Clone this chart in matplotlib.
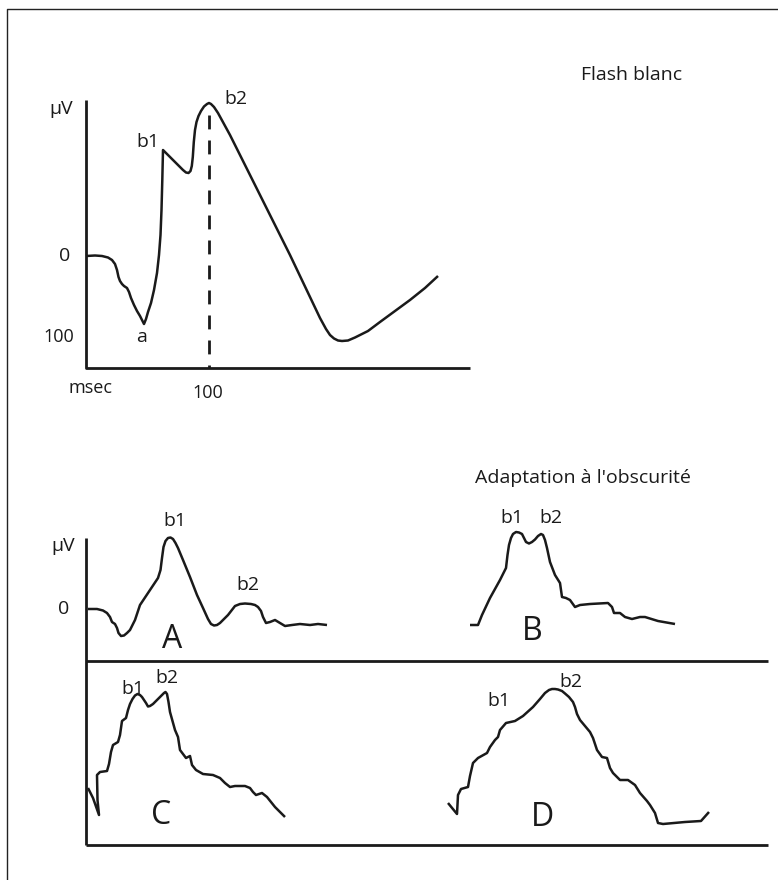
import matplotlib
matplotlib.use("Agg")
import matplotlib.pyplot as plt

plt.rcParams['font.family'] = ['Open Sans', 'DejaVu Sans']

# ---- traces (page coordinates, y downwards) ----
flash_x = [86, 95, 102, 108, 112, 115, 117, 118.5, 120, 122, 124, 127, 129, 131,
           134, 137, 140, 142, 144, 146, 148, 151, 154, 157, 159, 160.5, 161.5,
           162.3, 163, 170, 178, 183, 186, 188.5, 190.5, 191.8, 192.8, 193.8,
           195, 196.5, 198.5, 201, 204, 207, 209, 211, 214, 218, 230, 260, 290,
           320, 326, 330, 334, 338, 342, 348, 355, 368, 380, 395, 410, 425, 438]
flash_y = [256, 255.5, 256, 257.5, 260, 264, 270, 277, 281, 284, 286, 288, 292,
           298, 305, 311, 316, 320, 324, 319, 312, 303, 290, 273, 255, 235, 210,
           180, 150, 157, 165, 170, 172.5, 173, 171, 166, 157, 142, 130, 122, 116,
           111, 106.5, 104, 103, 104, 107, 113, 135, 195, 255, 318, 329, 335,
           338.5, 340.5, 341, 340.5, 337.5, 331, 322, 311, 300, 288, 276]

a_x = [88, 97, 103, 107, 110, 112, 115, 117, 118.5, 121, 124, 127, 130, 135, 140,
       150, 158, 160.5, 162, 163.5, 165.5, 168, 170.5, 173, 175.5, 178, 183, 190,
       197, 203, 208, 211, 214, 217, 220, 228, 235, 240, 245, 251, 255, 258, 261,
       263, 266, 270, 275, 280, 285, 292, 300, 310, 318, 327]
a_y = [609, 609, 610.5, 613, 617, 622, 624, 628, 633, 636, 635.5, 633, 630, 620,
       605, 590, 578, 570, 558, 547, 541, 538, 537.5, 539, 543, 548, 560, 577,
       595, 608, 619, 624, 625.5, 625, 623, 615, 606, 604, 603.5, 604, 605, 607,
       611, 617, 623, 622, 620, 623, 626, 625, 624, 625, 624, 625]

b_x = [470, 478, 482, 490, 500, 506, 507.5, 509, 511, 513, 516, 519, 522, 524,
       526, 529, 532, 535, 538, 541, 543, 545, 547, 550, 555, 560, 562, 566, 570,
       575, 580, 590, 608, 612, 614, 620, 625, 632, 640, 645, 658, 675]
b_y = [625, 625, 615, 598, 580, 568, 555, 545, 538, 534, 532, 532.5, 534, 538,
       542, 543.5, 542, 539.5, 536, 534, 535, 540, 548, 562, 575, 583, 597, 598,
       600, 607, 605, 604, 603, 607, 613, 613, 617, 619, 617, 617, 621, 624]

c_x = [88, 93, 99, 97.5, 97, 100, 107, 109, 111, 113, 118, 120, 122, 126, 128,
       130, 132.5, 135, 137.5, 140, 142, 144, 146, 148, 150, 153, 156, 159, 162,
       164, 165.5, 167, 168.5, 170, 175, 178, 180, 183, 186, 190, 192, 196, 203,
       213, 220, 225, 230, 235, 245, 250, 253, 256, 262, 267, 275, 285]
c_y = [788, 798, 815, 800, 775, 772, 771, 764, 752, 745, 742, 735, 721, 718, 710,
       704, 699, 695.5, 694, 695, 697, 700, 703, 706.5, 706, 704, 701, 698, 695,
       693, 692, 694, 702, 712, 730, 737, 750, 754, 758, 756, 765, 770, 774, 775,
       778, 783, 787, 786, 786, 788, 792, 795, 793, 797, 807, 817]

d_x = [448, 457, 458, 461, 468, 470, 473, 478, 487, 490, 495, 498, 500, 506, 515,
       523, 533, 540, 545, 549, 552, 555, 558, 562, 565, 569, 573, 575, 577, 580,
       590, 593, 597, 602, 607, 610, 613, 620, 628, 635, 640, 647, 650, 655, 658,
       663, 685, 701, 709]
d_y = [803, 814, 795, 789, 787, 776, 763, 758, 753, 747, 740, 737, 730, 723, 721,
       716, 707, 699, 693, 690, 689, 689, 689.5, 691, 693.5, 697, 702, 707, 714,
       720, 732, 738, 750, 757, 758, 768, 773, 780, 780, 785, 793, 801, 805, 813,
       823, 824, 822, 821, 812]

# labels: (text, x, y, size)
labels = [
    ("Flash blanc", 632, 75, 14),
    ("µV", 61, 109, 14),
    ("0", 64.5, 256, 14),
    ("100", 59, 337, 13),
    ("a", 142, 337, 14),
    ("b1", 147.5, 142, 14),
    ("b2", 236, 99, 14),
    ("msec", 91, 388, 13),
    ("100", 208, 393, 13),
    ("Adaptation à l'obscurité", 583, 478, 14),
    ("µV", 63, 546, 14),
    ("0", 64, 609, 14),
    ("b1", 175, 521, 14),
    ("b2", 248, 585, 14),
    ("A", 172, 640, 23),
    ("b1", 512, 518, 14),
    ("b2", 551, 518, 14),
    ("B", 532, 631, 23),
    ("b1", 133, 689, 14),
    ("b2", 167, 678, 14),
    ("C", 161, 816, 23),
    ("b1", 499, 701, 14),
    ("b2", 571, 682, 14),
    ("D", 543, 818, 23),
]

fig = plt.figure(figsize=(7.78, 8.8), dpi=100)
ax = fig.add_axes([0, 0, 1, 1])
ax.set_xlim(0, 778)
ax.set_ylim(880, 0)
ax.axis('off')

k = dict(color='#1a1a1a', solid_capstyle='butt', solid_joinstyle='round')

# outer frame (cut by the image edge on the right and bottom)
ax.plot([7, 7, 778], [880, 9, 9], color='#222222', lw=1.0)

# top chart axes
ax.plot([86, 86, 470], [100, 368, 368], lw=2.0, **k)
ax.plot([209, 209], [115, 368], lw=2.0, color='#1a1a1a', linestyle=(0, (5, 4)))
ax.plot(flash_x, flash_y, lw=1.8, **k)

# lower block: y axis, separator, bottom line
ax.plot([86, 86], [538, 845], lw=2.0, **k)
ax.plot([86, 768], [661, 661], lw=2.0, **k)
ax.plot([86, 768], [845, 845], lw=2.0, **k)

for xs, ys in [(a_x, a_y), (b_x, b_y), (c_x, c_y), (d_x, d_y)]:
    ax.plot(xs, ys, lw=1.8, **k)

for txt, x, y, s in labels:
    ax.text(x, y, txt, fontsize=s, ha='center', va='center', color='#1a1a1a')

fig.savefig("out.png", dpi=100)
